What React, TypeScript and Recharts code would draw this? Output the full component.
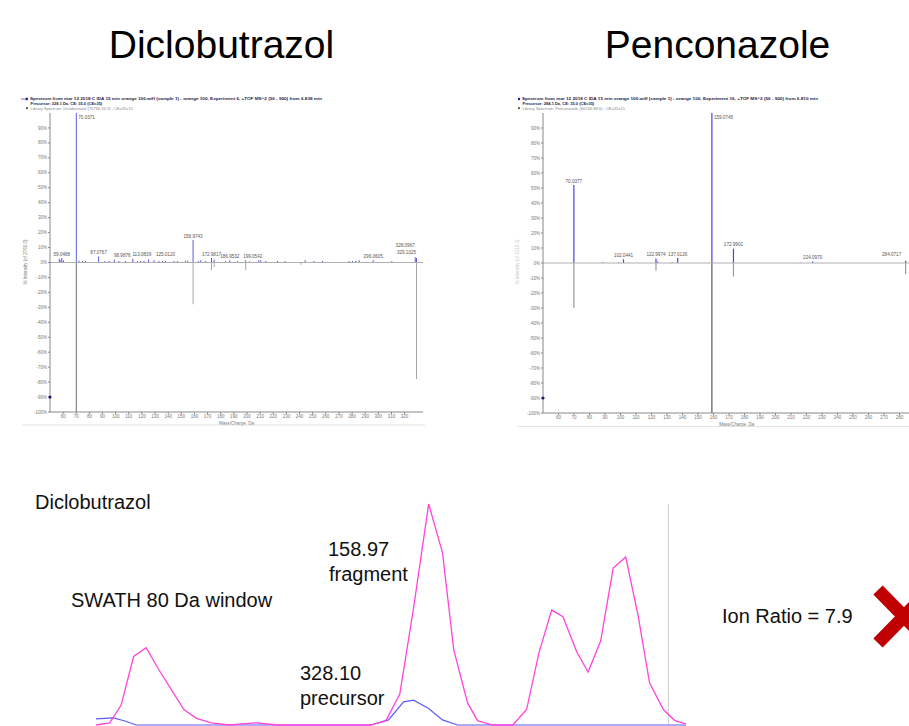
import React from "react";
import {
  BarChart,
  Bar,
  Cell,
  XAxis,
  YAxis,
  ReferenceLine,
  ReferenceDot,
  LabelList,
  LineChart,
  Line,
} from "recharts";

// Diclobutrazol MS/MS: sample spectrum (up) vs library (down), % intensity
const dicloSampleMz = [
  57.07, 58.3, 59.0488, 60.4, 70.0371, 72.1, 74.6, 77.1, 87.0767, 91.8, 94.9,
  98.9876, 102.5, 107.6, 113.0839, 116.5, 119.0, 121.6, 125.012, 129.2, 133.0,
  135.5, 138.0, 144.4, 147.0, 153.3, 155.0, 158.9743, 163.0, 164.8, 168.6,
  172.9817, 175.0, 183.8, 186.9532, 192.7, 199.0542, 202.0, 209.0, 210.5,
  214.3, 223.2, 229.0, 244.3, 251.0, 257.5, 277.8, 280.3, 282.8, 285.4,
  296.0605, 310.3, 328.0967, 329.1025,
];
const dicloSampleInt = [
  2.5, 1.5, 3, 1.5, 100, 1.2, 1, 1, 4, 1, 1, 2, 1, 1, 2.5, 1, 1, 1, 2, 1.5, 1,
  1, 1, 1, 1, 1.2, 1.2, 15, 1, 1.5, 1, 3, 2, 1, 1.5, 1, 1.5, 0.8, 1.5, 1.5, 1,
  1, 1, 1.5, 1, 1, 1, 1, 1, 1.5, 1.5, 1, 3.5, 3,
];
const dicloLibMz = [70.0371, 158.9743, 172.9817, 175.0, 199.0542, 241.0, 329.1025];
const dicloLibInt = [100, 28, 5, 3, 5, 1.5, 78];
const dicloLabelMz = [
  59.0488, 70.0371, 87.0767, 98.9876, 113.0839, 125.012, 158.9743, 172.9817,
  186.9532, 199.0542, 296.0605, 328.0967, 329.1025,
];
const dicloMzTicks = [
  60, 70, 80, 90, 100, 110, 120, 130, 140, 150, 160, 170, 180, 190, 200, 210,
  220, 230, 240, 250, 260, 270, 280, 290, 300, 310, 320,
];

// Penconazole MS/MS
const pencoSampleMz = [
  70.0377, 88.9, 99.0, 102.0441, 122.9974, 124.0, 133.4, 137.0126, 159.0745,
  172.9901, 216.0, 224.097, 284.0717,
];
const pencoSampleInt = [52, 0.5, 0.5, 2.5, 3, 1, 0.5, 3.3, 100, 9.5, 0.4, 1, 1.5];
const pencoLibMz = [70.0377, 122.9974, 159.0745, 172.9901, 284.0717];
const pencoLibInt = [30, 5, 100, 9, 7.5];
const pencoLabelMz = [
  70.0377, 102.0441, 122.9974, 137.0126, 159.0745, 172.9901, 224.097, 284.0717,
];
const pencoMzTicks = [
  60, 70, 80, 90, 100, 110, 120, 130, 140, 150, 160, 170, 180, 190, 200, 210,
  220, 230, 240, 250, 260, 270, 280,
];

const intensityTicks = [
  -100, -90, -80, -70, -60, -50, -40, -30, -20, -10, 0, 10, 20, 30, 40, 50, 60,
  70, 80, 90,
];

// XIC traces (scan number vs % of max)
const fragTime = [
  0, 1.1, 2.0, 3.0, 4.0, 4.9, 6.0, 7.0, 8.0, 9.2, 10.6, 12.7, 14.5, 16.8, 21.9,
  23.1, 24.2, 25.3, 26.5, 27.6, 28.5, 29.6, 30.4, 31.6, 33.2, 34.3, 35.3, 36.3,
  37.2, 38.3, 39.2, 40.2, 41.2, 42.2, 43.2, 44.1, 45.2, 46.1, 47.0,
];
const fragInt = [
  0, 1, 9, 31, 35, 26, 16, 7, 3, 1, 0, 1, 0, 0, 0, 2, 14, 53, 100, 78, 34, 10,
  2, 0, 0, 7, 33, 52, 49, 33, 24, 38, 71, 76, 49, 19, 7, 2, 0.5,
];
const precTime = [0, 1.4, 2.3, 3.2, 21.9, 23.3, 24.5, 25.3, 26.5, 27.6, 28.8, 47];
const precInt = [2.8, 3.2, 1.8, 0, 0, 2.3, 10.5, 11.2, 7.5, 2.3, 0, 0];

const FONT = '"Liberation Sans", Arial, sans-serif';

function buildSpectrum(
  sMz: number[],
  sInt: number[],
  lMz: number[],
  lInt: number[],
  labMz: number[]
) {
  const rows = new Map<number, any>();
  const row = (mz: number) => {
    if (!rows.has(mz)) rows.set(mz, { mz, sample: 0, lib: 0, label: "" });
    return rows.get(mz);
  };
  sMz.forEach((mz, i) => (row(mz).sample = sInt[i]));
  lMz.forEach((mz, i) => (row(mz).lib = -lInt[i]));
  labMz.forEach((mz) => (row(mz).label = mz.toFixed(4)));
  return [...rows.values()].sort((a, b) => a.mz - b.mz);
}

const dicloRows = buildSpectrum(dicloSampleMz, dicloSampleInt, dicloLibMz, dicloLibInt, dicloLabelMz);
const pencoRows = buildSpectrum(pencoSampleMz, pencoSampleInt, pencoLibMz, pencoLibInt, pencoLabelMz);

// label nudges (px) to mimic PeakView's collision handling
const dicloShifts: Record<string, number[]> = {
  "98.9876": [8, 0],
  "113.0839": [9, 0],
  "125.0120": [17, -1],
  "199.0542": [7, 0],
  "328.0967": [-10, -8],
  "329.1025": [-10, -2],
};
const pencoShifts: Record<string, number[]> = {
  "284.0717": [-14, -2],
};

const makePeakLabel = (shifts: Record<string, number[]>) => (props: any) => {
  const vb = props.viewBox || {};
  const x = Number(props.x ?? vb.x);
  const y = Number(props.y ?? vb.y);
  const w = Number(props.width ?? vb.width ?? 1);
  const h = Number(props.height ?? vb.height ?? 0);
  const value = props.value;
  if (!value) return null;
  const cx = x + w / 2;
  const tall = Math.abs(h) > 120;
  const [dx, dy] = shifts[value] ?? [0, 0];
  return (
    <text
      x={tall ? cx + 2 : cx + dx}
      y={tall ? y + 6 : y - 2.5 + dy}
      fontSize={4.6}
      fill="#555"
      fontFamily={FONT}
      textAnchor={tall ? "start" : "middle"}
    >
      {value}
    </text>
  );
};

function Spectrum({
  rows,
  domain,
  ticks,
  width,
  margin,
  shifts,
}: {
  rows: any[];
  domain: number[];
  ticks: number[];
  width: number;
  margin: any;
  shifts: Record<string, number[]>;
}) {
  const tick = { fontSize: 4.5, fill: "#777", fontFamily: FONT };
  return (
    <BarChart width={width} height={345} data={rows} margin={margin} stackOffset="sign">
      <XAxis
        type="number"
        dataKey="mz"
        domain={domain}
        ticks={ticks}
        interval={0}
        allowDataOverflow
        tick={tick}
        tickSize={2}
        tickMargin={0.5}
        stroke="#888"
        height={12}
        label={{ value: "Mass/Charge, Da", position: "insideBottom", offset: -1, fontSize: 4.5, fill: "#777" }}
      />
      <YAxis
        type="number"
        domain={[-100, 100]}
        ticks={intensityTicks}
        interval={0}
        allowDataOverflow
        tickFormatter={(v) => `${v}%`}
        width={30}
        tick={tick}
        tickSize={2}
        tickMargin={1}
        stroke="#888"
      />
      <ReferenceLine y={0} stroke="#b0b0b0" />
      <Bar dataKey="sample" stackId="s" fill="#4444e2" barSize={1.2} isAnimationActive={false}>
        <LabelList dataKey="label" content={makePeakLabel(shifts)} />
      </Bar>
      <Bar dataKey="lib" stackId="s" barSize={1.2} isAnimationActive={false}>
        {rows.map((r, i) => (
          <Cell key={`lib-${i}`} fill={r.lib <= -100 ? "#5a5a5a" : "#9a9a9a"} />
        ))}
      </Bar>
      <ReferenceDot x={domain[0]} y={-90} r={1.6} fill="#1c1c7a" stroke="none" ifOverflow="visible" />
    </BarChart>
  );
}

function Chromatogram() {
  const frag = fragTime.map((t, i) => ({ t, v: fragInt[i] }));
  const prec = precTime.map((t, i) => ({ t, v: precInt[i] }));
  return (
    <LineChart width={909} height={246} margin={{ top: 24, right: 223, bottom: 1, left: 96 }}>
      <XAxis type="number" dataKey="t" domain={[0, 47]} hide height={0} />
      <YAxis type="number" domain={[0, 100]} hide width={0} />
      <ReferenceLine x={45.6} stroke="#cfcfcf" />
      <Line data={prec} dataKey="v" type="linear" stroke="#5a5aff" strokeWidth={1.2} dot={false} isAnimationActive={false} />
      <Line data={frag} dataKey="v" type="linear" stroke="#ff44dd" strokeWidth={1.3} dot={false} isAnimationActive={false} />
    </LineChart>
  );
}

export default function App() {
  const small = { fontFamily: FONT, fontSize: 4 };
  return (
    <div
      style={{
        position: "fixed",
        left: 0,
        top: 0,
        width: 909,
        height: 726,
        overflow: "hidden",
        background: "#fff",
        fontFamily: FONT,
      }}
    >
      <div style={{ position: "absolute", left: 0, top: 90 }}>
        <Spectrum
          rows={dicloRows}
          domain={[50, 334]}
          ticks={dicloMzTicks}
          width={440}
          margin={{ top: 23, right: 17, bottom: 11, left: 20 }}
          shifts={dicloShifts}
        />
      </div>
      <div style={{ position: "absolute", left: 500, top: 90 }}>
        <Spectrum
          rows={pencoRows}
          domain={[50, 300]}
          ticks={pencoMzTicks}
          width={441}
          margin={{ top: 23, right: 10.5, bottom: 10, left: 13 }}
          shifts={pencoShifts}
        />
      </div>
      <div style={{ position: "absolute", left: 0, top: 480 }}>
        <Chromatogram />
      </div>

      <svg width={909} height={726} style={{ position: "absolute", left: 0, top: 0, pointerEvents: "none" }}>
        <text x={221.5} y={58} fontSize={39} textAnchor="middle" fontFamily={FONT} fill="#000">
          Diclobutrazol
        </text>
        <text x={717.5} y={58} fontSize={39} textAnchor="middle" fontFamily={FONT} fill="#000">
          Penconazole
        </text>

        {/* spectrum headers */}
        <line x1={21} y1={99} x2={25} y2={99} stroke="#1c1c7a" strokeWidth={0.6} />
        <rect x={25.5} y={97.8} width={2.4} height={2.4} fill="#1c1c7a" />
        <text x={30} y={100.4} {...small} fontWeight="bold" fill="#1c1c4a" textLength={292} lengthAdjust="spacingAndGlyphs">
          Spectrum from mar 12 2018 C IDA 15 min orange 100.wiff (sample 1) - orange 100, Experiment 6, +TOF MS^2 (50 - 900) from 6.838 min
        </text>
        <text x={30.5} y={105} {...small} fontWeight="bold" fill="#1c1c4a">
          Precursor: 328.1 Da, CE: 35.0 (CE=35)
        </text>
        <circle cx={27} cy={108.2} r={1.1} fill="#555" />
        <text x={30.5} y={109.6} {...small} fill="#888">
          Library Spectrum: Diclobutrazol (75736-33-3) , CE=35±15
        </text>

        <circle cx={519} cy={99} r={1.2} fill="#1c1c7a" />
        <text x={522} y={100.4} {...small} fontWeight="bold" fill="#1c1c4a" textLength={296} lengthAdjust="spacingAndGlyphs">
          Spectrum from mar 12 2018 C IDA 15 min orange 100.wiff (sample 1) - orange 100, Experiment 16, +TOF MS^2 (50 - 900) from 6.810 min
        </text>
        <text x={522.5} y={105} {...small} fontWeight="bold" fill="#1c1c4a">
          Precursor: 284.1 Da, CE: 35.0 (CE=35)
        </text>
        <circle cx={519} cy={108.2} r={1.1} fill="#555" />
        <text x={522.5} y={109.6} {...small} fill="#888">
          Library Spectrum: Penconazole (66246-88-6) , CE=35±15
        </text>

        <text x={26.5} y={262} fontFamily={FONT} fontSize={4.5} fill="#777" textAnchor="middle" transform="rotate(-90 26.5 262)">
          % Intensity (of 2760.0)
        </text>
        <text x={518.5} y={262} fontFamily={FONT} fontSize={4.5} fill="#c8c8c8" textAnchor="middle" transform="rotate(-90 518.5 262)">
          % Intensity (of 1016.0)
        </text>

        <line x1={22} y1={425} x2={425} y2={425} stroke="#dcdcdc" strokeWidth={0.8} />
        <line x1={517} y1={426.5} x2={909} y2={426.5} stroke="#dcdcdc" strokeWidth={0.8} />

        {/* chromatogram annotations */}
        <text x={35} y={509} fontSize={20} fontFamily={FONT} fill="#111">Diclobutrazol</text>
        <text x={328} y={556} fontSize={20} fontFamily={FONT} fill="#111">158.97</text>
        <text x={329} y={581} fontSize={20} fontFamily={FONT} fill="#111">fragment</text>
        <text x={71} y={607} fontSize={20} fontFamily={FONT} fill="#111">SWATH 80 Da window</text>
        <text x={722} y={623} fontSize={20} fontFamily={FONT} fill="#111">Ion Ratio = 7.9</text>
        <text x={300} y={680} fontSize={20} fontFamily={FONT} fill="#111">328.10</text>
        <text x={300} y={705} fontSize={20} fontFamily={FONT} fill="#111">precursor</text>

        <g stroke="#c00000" strokeWidth={13}>
          <line x1={878} y1={590} x2={930} y2={643} />
          <line x1={878} y1={643} x2={930} y2={590} />
        </g>
      </svg>
    </div>
  );
}
